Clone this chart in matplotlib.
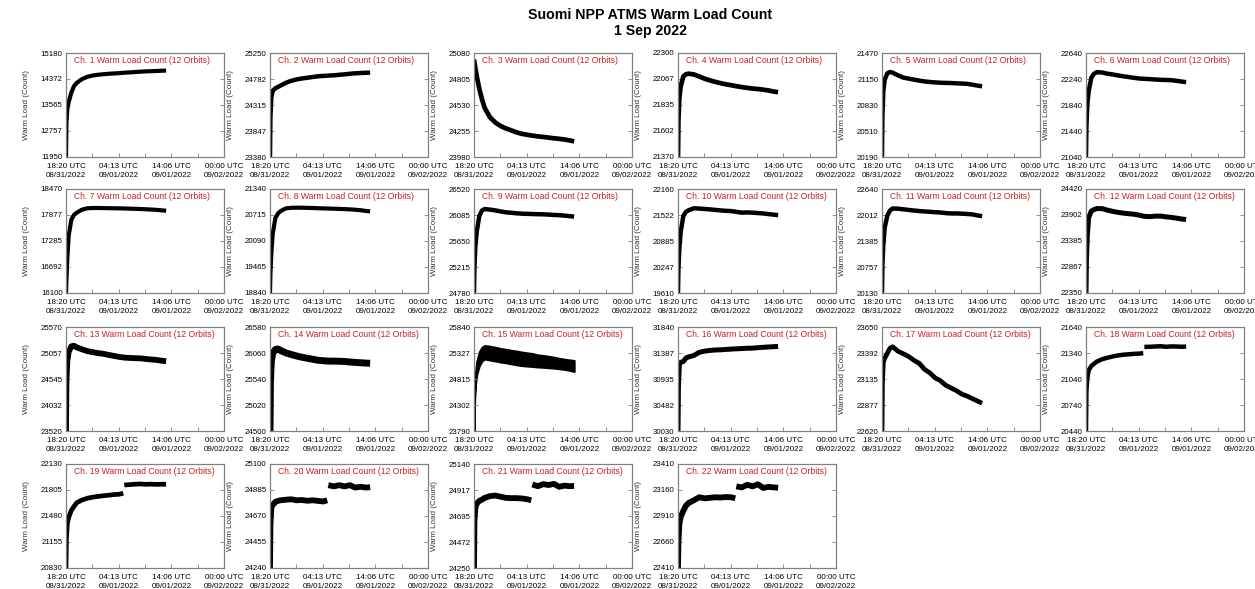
import numpy as np
import matplotlib
matplotlib.use("Agg")
import matplotlib.pyplot as plt
from matplotlib.ticker import FixedLocator

plt.rcParams['font.family'] = ['Liberation Sans', 'DejaVu Sans']

# ---------------- data ----------------
# hours since 18:20 UTC 08/31/2022 (shared sampling of the traces)
HOURS = [0, 0.08, 0.25, 0.5, 1, 1.5, 2, 3, 4, 5, 6, 7, 8, 9, 10, 10.75, 10.85, 10.95,
         12, 13, 14, 15, 16, 17, 18, 18.8]
NAN = float('nan')

CH01 = [11950, 13000, 13450, 13650, 13950, 14150, 14250, 14370, 14440, 14480, 14505, 14520, 14535,
        14545, 14555, 14565, 14567, 14568, 14578, 14590, 14600, 14610, 14615, 14622, 14630, 14633]
CH02 = [23380, 24100, 24450, 24570, 24615, 24640, 24665, 24715, 24750, 24775, 24792, 24805, 24818,
        24831, 24838, 24842, 24843, 24844, 24849, 24858, 24866, 24877, 24885, 24890, 24895, 24897]
CH03 = [25010, 24980, 24920, 24840, 24700, 24590, 24500, 24400, 24345, 24308, 24282, 24262, 24240,
        24225, 24215, 24208, 24207, 24206, 24198, 24192, 24185, 24178, 24172, 24165, 24155, 24145]
CH04 = [21370, 21700, 21900, 22000, 22090, 22110, 22115, 22108, 22090, 22070, 22055, 22042, 22030,
        22020, 22012, 22005, 22004, 22003, 21995, 21988, 21982, 21978, 21972, 21965, 21955, 21950]
CH05 = [20190, 20700, 21000, 21140, 21220, 21236, 21228, 21195, 21167, 21155, 21142, 21130, 21120,
        21113, 21108, 21105, 21104, 21104, 21102, 21100, 21097, 21094, 21090, 21080, 21068, 21060]
CH06 = [21040, 21500, 21850, 22050, 22260, 22320, 22345, 22340, 22322, 22310, 22295, 22282, 22270,
        22258, 22247, 22244, 22243, 22243, 22238, 22232, 22228, 22225, 22222, 22212, 22200, 22192]
CH07 = [16100, 16400, 16900, 17400, 17770, 17880, 17930, 17999, 18030, 18037, 18037, 18035, 18033,
        18031, 18029, 18027, 18027, 18026, 18022, 18018, 18014, 18008, 18002, 17995, 17983, 17976]
CH08 = [18840, 19300, 19800, 20250, 20640, 20750, 20810, 20875, 20888, 20891, 20890, 20887, 20883,
        20878, 20874, 20871, 20870, 20870, 20866, 20861, 20857, 20850, 20842, 20830, 20812, 20803]
CH09 = [24780, 25200, 25550, 25800, 26070, 26160, 26185, 26175, 26162, 26145, 26130, 26122, 26114,
        26107, 26104, 26102, 26102, 26101, 26098, 26096, 26092, 26086, 26082, 26075, 26065, 26060]
CH10 = [19610, 20200, 20700, 21100, 21500, 21600, 21640, 21687, 21680, 21670, 21660, 21648, 21635,
        21625, 21618, 21605, 21603, 21600, 21580, 21586, 21580, 21570, 21560, 21545, 21530, 21520]
CH11 = [20130, 20800, 21300, 21700, 22000, 22120, 22170, 22165, 22150, 22135, 22120, 22108, 22098,
        22090, 22080, 22075, 22074, 22073, 22058, 22050, 22050, 22045, 22037, 22027, 22000, 21986]
CH12 = [22350, 23000, 23500, 23850, 23980, 24010, 24030, 24030, 24000, 23975, 23955, 23940, 23928,
        23918, 23900, 23880, 23878, 23876, 23870, 23880, 23881, 23866, 23855, 23840, 23822, 23813]
CH13 = [23520, 24500, 24900, 25080, 25190, 25200, 25170, 25130, 25095, 25074, 25055, 25042, 25020,
        25000, 24980, 24970, 24968, 24966, 24960, 24955, 24952, 24940, 24930, 24920, 24905, 24896]
CH14 = [24500, 25500, 25900, 26050, 26130, 26140, 26110, 26060, 26030, 26000, 25975, 25955, 25935,
        25915, 25905, 25900, 25899, 25898, 25897, 25895, 25890, 25880, 25872, 25865, 25858, 25855]
# channel 15 is a wide noisy band: upper and lower envelopes
CH15_UPPER = [23790, 24500, 24900, 25150, 25350, 25440, 25475, 25460, 25440, 25415, 25400, 25380, 25365,
              25345, 25330, 25320, 25318, 25316, 25290, 25278, 25262, 25245, 25222, 25205, 25190, 25180]
CH15_LOWER = [23790, 24300, 24700, 24900, 25080, 25170, 25210, 25190, 25170, 25150, 25135, 25115, 25095,
              25080, 25070, 25065, 25064, 25063, 25052, 25047, 25038, 25030, 25018, 25005, 24985, 24965]
CH16 = [30030, 30800, 31200, 31225, 31240, 31300, 31320, 31345, 31400, 31420, 31432, 31440, 31443,
        31450, 31455, 31460, 31460, 31460, 31465, 31470, 31472, 31480, 31487, 31492, 31498, 31502]
CH17 = [22620, 23100, 23300, 23340, 23390, 23440, 23455, 23410, 23385, 23358, 23320, 23290, 23230,
        23195, 23145, 23125, 23122, 23118, 23072, 23045, 23019, 22985, 22965, 22940, 22915, 22895]
CH18 = [20440, 20900, 21050, 21140, 21190, 21215, 21240, 21268, 21285, 21300, 21312, 21320, 21325,
        21330, 21333, 21338, NAN, 21410, 21412, 21415, 21418, 21412, 21416, 21415, 21412, 21414]
CH19 = [20830, 21200, 21386, 21460, 21550, 21600, 21645, 21680, 21702, 21715, 21725, 21733, 21740,
        21748, 21752, 21765, NAN, 21868, 21872, 21878, 21880, 21876, 21878, 21875, 21877, 21876]
CH20 = [24240, 24600, 24740, 24760, 24787, 24795, 24800, 24805, 24808, 24800, 24802, 24796, 24800,
        24795, 24790, 24800, NAN, 24925, 24915, 24925, 24915, 24925, 24905, 24912, 24905, 24908]
CH21 = [24250, 24650, 24760, 24800, 24825, 24835, 24850, 24865, 24870, 24860, 24850, 24848, 24848,
        24845, 24838, 24830, NAN, 24965, 24950, 24968, 24960, 24970, 24945, 24955, 24950, 24952]
CH22 = [22410, 22650, 22830, 22900, 22960, 23010, 23035, 23062, 23090, 23080, 23085, 23090, 23088,
        23092, 23090, 23080, NAN, 23195, 23185, 23210, 23195, 23215, 23180, 23190, 23185, 23182]

SERIES = [CH01, CH02, CH03, CH04, CH05, CH06, CH07, CH08, CH09, CH10, CH11, CH12,
          CH13, CH14, None, CH16, CH17, CH18, CH19, CH20, CH21, CH22]

Y_MIN = [11950, 23380, 23980, 21370, 20190, 21040, 16100, 18840, 24780, 19610, 20130, 22350,
         23520, 24500, 23790, 30030, 22620, 20440, 20830, 24240, 24250, 22410]
Y_MAX = [15180, 25250, 25080, 22300, 21470, 22640, 18470, 21340, 26520, 22160, 22640, 24420,
         25570, 26580, 25840, 31840, 23650, 21640, 22130, 25100, 25140, 23410]

X_SPAN = 29 + 40 / 60.0   # 18:20 08/31 -> 00:00 09/02
X_TICK_LABELS = ["18:20 UTC\n08/31/2022", "04:13 UTC\n09/01/2022",
                 "14:06 UTC\n09/01/2022", "00:00 UTC\n09/02/2022"]

# ---------------- layout ----------------
W, H = 1255, 589
fig = plt.figure(figsize=(W / 100, H / 100), dpi=100)
COL_LEFT = [66, 270, 474, 678, 882, 1086]
ROW_TOP = [53, 189, 327, 464]
AX_W, AX_H = 158, 104
LW = [3.0, 3.2, 3.4, 3.4, 3.2, 3.2, 3.0, 3.0, 3.2, 3.2, 3.2, 3.6,
      4.2, 5.0, 3.0, 3.6, 3.4, 3.2, 3.4, 4.2, 4.2, 4.2]
SPINE = '#808080'
RED = '#cc1f1f'

fig.text(650 / W, 1 - 15 / H, "Suomi NPP ATMS Warm Load Count", ha='center', va='center',
         fontsize=10.2, fontweight='bold')
fig.text(650 / W, 1 - 31 / H, "1 Sep 2022", ha='center', va='center',
         fontsize=10.2, fontweight='bold')

x = np.array(HOURS)
xt = [0, X_SPAN / 3, 2 * X_SPAN / 3, X_SPAN]
for i in range(22):
    r, c = divmod(i, 6)
    ax = fig.add_axes([COL_LEFT[c] / W, 1 - (ROW_TOP[r] + AX_H) / H, AX_W / W, AX_H / H])
    if i == 14:
        ax.fill_between(x, CH15_LOWER, CH15_UPPER, color='black', lw=1.5, edgecolor='black')
    else:
        ax.plot(x, SERIES[i], color='black', lw=LW[i], solid_capstyle='butt', solid_joinstyle='round')
    ax.set_xlim(0, X_SPAN)
    ax.set_ylim(Y_MIN[i], Y_MAX[i])
    yt = np.linspace(Y_MIN[i], Y_MAX[i], 5)
    ax.set_yticks(yt)
    ax.set_yticklabels([str(int(v)) for v in yt], fontsize=5.7)
    ax.set_xticks(xt)
    ax.set_xticklabels(X_TICK_LABELS, fontsize=5.8, linespacing=1.4)
    ax.xaxis.set_minor_locator(FixedLocator([X_SPAN / 6, X_SPAN / 2, 5 * X_SPAN / 6]))
    ax.tick_params(which='both', direction='in', top=False, right=True, length=3,
                   width=0.6, color=SPINE, pad=2.5)
    ax.tick_params(axis='x', which='major', pad=4.5)
    for s in ax.spines.values():
        s.set_color(SPINE)
        s.set_linewidth(0.9)
    ax.set_ylabel("Warm Load (Count)", fontsize=5.8, color='#333333')
    ax.yaxis.set_label_coords(-0.228, 0.5)
    ax.text(0.05, 0.93, f"Ch. {i + 1} Warm Load Count (12 Orbits)", transform=ax.transAxes,
            color=RED, fontsize=6.2, ha='left', va='center')

fig.savefig("out.png", dpi=100)
